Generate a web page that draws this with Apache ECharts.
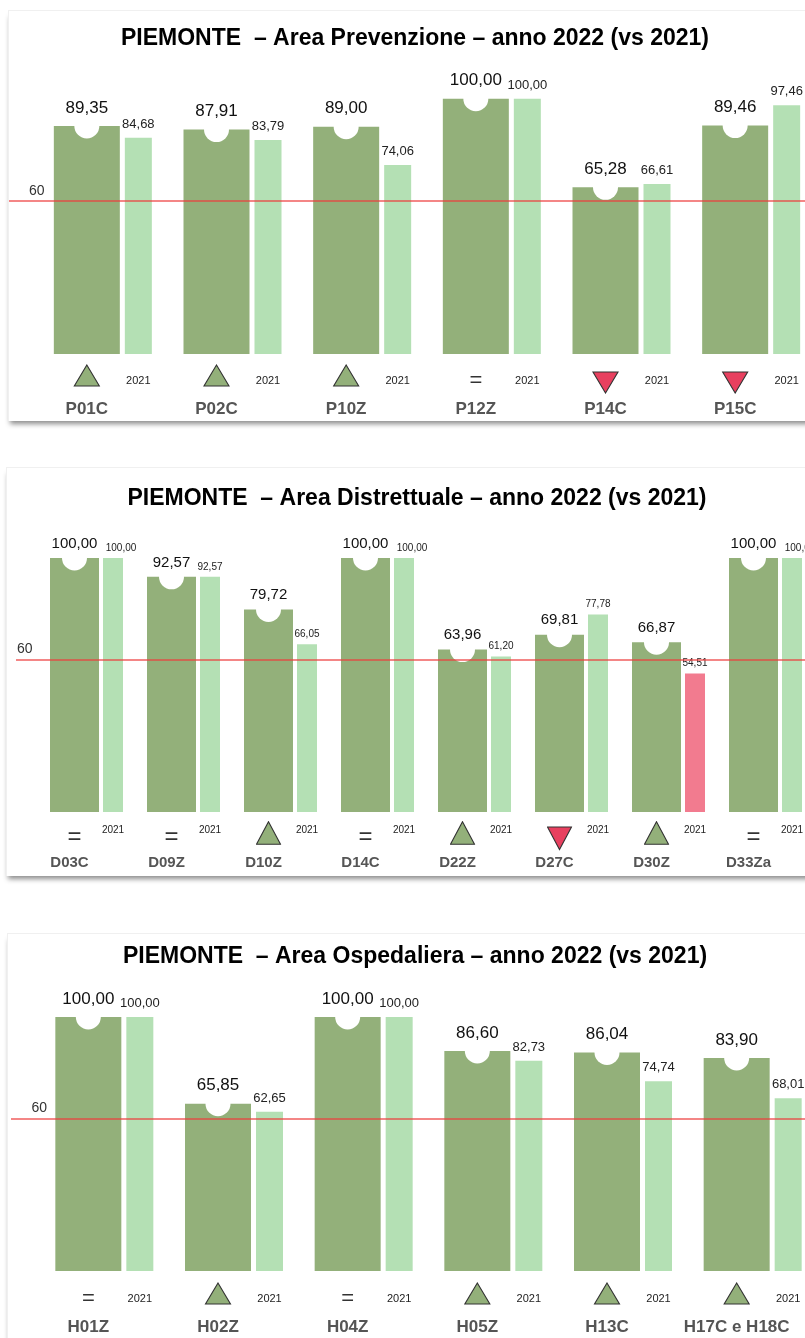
<!DOCTYPE html>
<html>
<head>
<meta charset="utf-8">
<script src="https://cdn.jsdelivr.net/npm/echarts@6/dist/echarts.min.js"></script>
<style>
  html, body { margin: 0; padding: 0; background: #fff; overflow: hidden; }
  .card { position: absolute; right: -20px; background: #fff;
          border-top: 1px solid #f0f0f0; border-left: 1px solid #f0f0f0;
          box-shadow: 0 5px 5px -2px rgba(0,0,0,0.45); }
  #chart { position: absolute; left: 0; top: 0; width: 830px; height: 1338px; }
</style>
</head>
<body>
<div class="card" style="left:8px;top:10px;height:410px"></div>
<div class="card" style="left:6px;top:467px;height:408px"></div>
<div class="card" style="left:7px;top:933px;height:430px"></div>
<div id="chart"></div>
<script>
// --- data ---
const yearLabel = '2021';
const refValue = 60;

const prevCats = ['P01C', 'P02C', 'P10Z', 'P12Z', 'P14C', 'P15C'];
const prev2022 = [89.35, 87.91, 89.00, 100.00, 65.28, 89.46];
const prev2021 = [84.68, 83.79, 74.06, 100.00, 66.61, 97.46];
const prevTrend = ['up', 'up', 'up', 'eq', 'down', 'down'];

const distCats = ['D03C', 'D09Z', 'D10Z', 'D14C', 'D22Z', 'D27C', 'D30Z', 'D33Za'];
const dist2022 = [100.00, 92.57, 79.72, 100.00, 63.96, 69.81, 66.87, 100.00];
const dist2021 = [100.00, 92.57, 66.05, 100.00, 61.20, 77.78, 54.51, 100.00];
const distTrend = ['eq', 'eq', 'up', 'eq', 'up', 'down', 'up', 'eq'];

const ospCats = ['H01Z', 'H02Z', 'H04Z', 'H05Z', 'H13C', 'H17C e H18C'];
const osp2022 = [100.00, 65.85, 100.00, 86.60, 86.04, 83.90];
const osp2021 = [100.00, 62.65, 100.00, 82.73, 74.74, 68.01];
const ospTrend = ['eq', 'up', 'eq', 'up', 'up', 'up'];

// --- style ---
const FONT = '"Liberation Sans", Arial, Helvetica, sans-serif';
const DARK = '#93b07a', LIGHT = '#b4e0b4', RED_BAR = '#f27b8f', DOWN = '#e8405f';
const LINE = 'rgba(238,60,60,0.62)';

function fmt(v) { return v.toFixed(2).replace('.', ','); }
function svg(w, h, pts, fill) {
  const s = "<svg xmlns='http://www.w3.org/2000/svg' width='" + w + "' height='" + h + "'>" +
    "<polygon points='" + pts + "' fill='" + fill + "' stroke='#333' stroke-width='1.1'/></svg>";
  return 'data:image/svg+xml;charset=utf-8,' + encodeURIComponent(s);
}

const panels = [
  { title: 'PIEMONTE  – Area Prevenzione – anno 2022 (vs 2021)', cats: prevCats, cur: prev2022, old: prev2021, trend: prevTrend,
    titleX: 415, titleY: 27.5, left: 38, width: 778, top: 98.7, bottom: 354, lineLeft: 9, refMargin: 20,
    darkW: 66, lightW: 27, gap: 5, catW: 66, curFont: 17, curDy: -18, oldFont: 13, oldDist: 7, fullShift: 0,
    margin: 10, symW: 28, symH: 30, up: '14,1 26.5,22 1.5,22', down: '1.5,8 26.5,8 14,29',
    l1: 30, yrFont: 11, yrPad: [3, 0, 0, 0], eqFont: 22, eqPad: [3, 0, 0, 0], l2: 30, catFont: 17 },
  { title: 'PIEMONTE  – Area Distrettuale – anno 2022 (vs 2021)', cats: distCats, cur: dist2022, old: dist2021, trend: distTrend,
    titleX: 417, titleY: 487, left: 38, width: 776, top: 558, bottom: 812, lineLeft: 16, refMargin: 1,
    darkW: 49, lightW: 20, gap: 4, catW: 39, curFont: 15, curDy: -14.5, oldFont: 10, oldDist: 5, fullShift: 8,
    margin: 9, symW: 26, symH: 30, up: '13,0.7 25,23.3 1,23.3', down: '1,6 25,6 13,28.6',
    l1: 30, yrFont: 10, yrPad: [0, 0, 11, 0], eqFont: 24, eqPad: [2, 0, 0, 0], l2: 24, catFont: 15 },
  { title: 'PIEMONTE  – Area Ospedaliera – anno 2022 (vs 2021)', cats: ospCats, cur: osp2022, old: osp2021, trend: ospTrend,
    titleX: 415, titleY: 945.5, left: 39.5, width: 778, top: 1017, bottom: 1271, lineLeft: 11, refMargin: 20.5,
    darkW: 66, lightW: 27, gap: 5, catW: 66, curFont: 17, curDy: -18, oldFont: 13, oldDist: 7, fullShift: 0,
    margin: 11, symW: 28, symH: 30, up: '14,1 26.5,22 1.5,22', down: '1.5,8 26.5,8 14,29',
    l1: 30, yrFont: 11, yrPad: [3, 0, 0, 0], eqFont: 22, eqPad: [3, 0, 0, 0], l2: 30, catFont: 17 }
];

const option = { animation: false, title: [], grid: [], xAxis: [], yAxis: [], series: [] };

panels.forEach(function (p, k) {
  const g = 2 * k;
  const total = p.darkW + p.gap + p.lightW;
  const darkOff = -total / 2 + p.darkW / 2;
  const side = (p.darkW - p.symW) / 2;
  const gapPct = (p.gap / p.darkW * 100) + '%';

  option.title.push({
    text: p.title, left: p.titleX, top: p.titleY, textAlign: 'center', padding: 0,
    textStyle: { fontFamily: FONT, fontSize: 23, fontWeight: 'bold', color: '#000' }
  });
  option.grid.push({ left: p.left, top: p.top, width: p.width, height: p.bottom - p.top });
  option.grid.push({ left: p.lineLeft, top: p.top, width: 830 - p.lineLeft, height: p.bottom - p.top });

  option.xAxis.push({
    type: 'category', gridIndex: g, data: p.cats,
    axisLine: { show: false }, axisTick: { show: false },
    axisLabel: {
      interval: 0, margin: p.margin, fontFamily: FONT,
      formatter: function (v, i) {
        const t = p.trend[i];
        const sym = t === 'up' ? '{up|}' : t === 'down' ? '{dn|}' : '{eq|=}';
        return '{s1| }' + sym + '{s2| }{yr|' + yearLabel + '}\n{cat|' + v + '}{s3| }';
      },
      rich: {
        s1: { width: side, lineHeight: p.l1, align: 'center' },
        up: { width: p.symW, height: p.symH, lineHeight: p.l1, align: 'center', backgroundColor: { image: svg(p.symW, p.symH, p.up, DARK) } },
        dn: { width: p.symW, height: p.symH, lineHeight: p.l1, align: 'center', backgroundColor: { image: svg(p.symW, p.symH, p.down, DOWN) } },
        eq: { width: p.symW, fontSize: p.eqFont, color: '#333', verticalAlign: 'middle', padding: p.eqPad, align: 'center', fontFamily: FONT },
        s2: { width: side + p.gap, lineHeight: p.l1, align: 'center' },
        yr: { width: p.lightW, fontSize: p.yrFont, color: '#222', verticalAlign: 'middle', padding: p.yrPad, align: 'center', fontFamily: FONT },
        cat: { width: p.catW, fontSize: p.catFont, fontWeight: 'bold', color: '#555', lineHeight: p.l2, align: 'center', fontFamily: FONT },
        s3: { width: total - p.catW, lineHeight: p.l2, align: 'center' }
      }
    }
  });
  option.xAxis.push({ type: 'value', gridIndex: g + 1, show: false, min: 0, max: 1 });

  option.yAxis.push({ type: 'value', gridIndex: g, min: 0, max: 100, show: false });
  option.yAxis.push({
    type: 'value', gridIndex: g + 1, min: 0, max: 100, interval: refValue, z: 5,
    axisLine: { show: false }, axisTick: { show: false },
    splitLine: { show: true, showMinLine: false, showMaxLine: false, lineStyle: { color: LINE, width: 2 } },
    axisLabel: {
      inside: true, margin: p.refMargin, showMinLabel: false, showMaxLabel: false,
      fontFamily: FONT, fontSize: 14, color: '#333', verticalAlign: 'bottom', lineHeight: 14, padding: [0, 0, 3, 0],
      formatter: function (v) { return v === refValue ? String(refValue) : ''; }
    }
  });

  option.series.push({
    type: 'bar', xAxisIndex: g, yAxisIndex: g, data: p.cur, barWidth: p.darkW, barGap: gapPct,
    itemStyle: { color: DARK }, clip: false, silent: true
  });
  option.series.push({
    type: 'bar', xAxisIndex: g, yAxisIndex: g, barWidth: p.lightW, barGap: gapPct, clip: false, silent: true,
    data: p.old.map(function (v) {
      return { value: v, itemStyle: { color: v < refValue ? RED_BAR : LIGHT },
               label: { offset: [v >= 100 ? p.fullShift : 0, 0] } };
    }),
    label: { show: true, position: 'top', distance: p.oldDist, fontFamily: FONT, fontSize: p.oldFont, color: '#222',
             formatter: function (d) { return fmt(d.value); } }
  });
  option.series.push({
    type: 'scatter', xAxisIndex: g, yAxisIndex: g, data: p.cur, symbol: 'circle', symbolSize: 25,
    symbolOffset: [darkOff, 0], itemStyle: { color: '#fff', opacity: 1 }, clip: false, silent: true,
    label: { show: true, position: 'inside', offset: [0, p.curDy], fontFamily: FONT, fontSize: p.curFont, color: '#111',
             formatter: function (d) { return fmt(d.value); } }
  });
});

const chart = echarts.init(document.getElementById('chart'), null, { renderer: 'canvas' });
chart.setOption(option);
</script>
</body>
</html>
